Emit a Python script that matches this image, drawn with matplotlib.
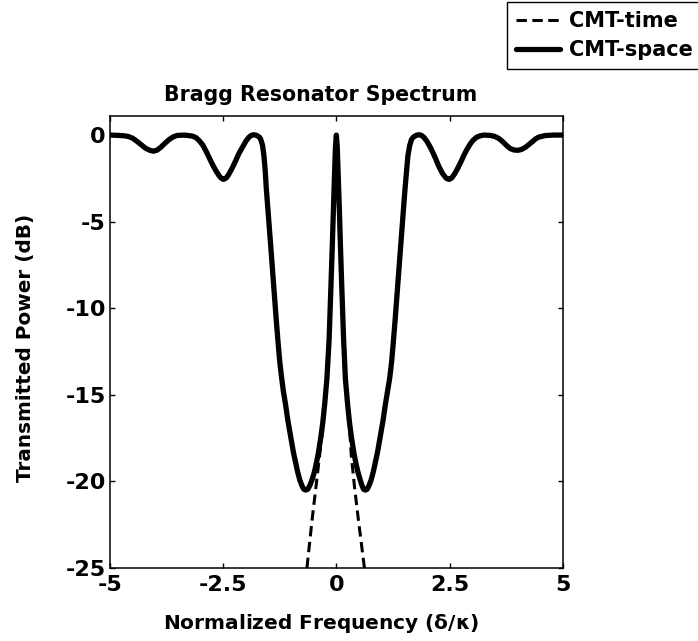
import matplotlib
matplotlib.use("Agg")
import matplotlib.pyplot as plt

# Normalized detuning (delta/kappa) and transmitted power (dB), coupled-mode theory in space
x_space = [-5.00, -4.80, -4.70, -4.61, -4.50, -4.39, -4.30, -4.21, -4.12, -4.04,
           -3.96, -3.88, -3.79, -3.69, -3.60, -3.51, -3.35, -3.18, -3.10, -3.03,
           -2.95, -2.88, -2.81, -2.74, -2.67, -2.59, -2.54, -2.49, -2.43, -2.37,
           -2.30, -2.22, -2.15, -2.07, -2.00, -1.93, -1.88, -1.83, -1.78, -1.74,
           -1.70, -1.67, -1.63, -1.60, -1.57, -1.55, -1.52, -1.49, -1.45, -1.41,
           -1.37, -1.33, -1.29, -1.25, -1.21, -1.17, -1.12, -1.07, -1.01, -0.95,
           -0.86, -0.81, -0.76, -0.72, -0.675, -0.63, -0.58, -0.53, -0.49, -0.45,
           -0.40, -0.34, -0.30, -0.26, -0.21, -0.16, -0.12, -0.09, -0.066, -0.04,
           -0.02, 0.00,
           0.02, 0.04, 0.066, 0.09, 0.12, 0.16, 0.20, 0.25, 0.29, 0.33,
           0.39, 0.44, 0.48, 0.52, 0.56, 0.60, 0.64, 0.68, 0.72, 0.77,
           0.82, 0.91, 0.97, 1.03, 1.08, 1.13, 1.18, 1.22, 1.26, 1.30,
           1.34, 1.38, 1.42, 1.46, 1.49, 1.52, 1.55, 1.58, 1.62, 1.66,
           1.70, 1.74, 1.78, 1.83, 1.88, 1.93, 2.00, 2.07, 2.13, 2.19,
           2.27, 2.35, 2.43, 2.49, 2.55, 2.61, 2.68, 2.75, 2.82, 2.89,
           2.96, 3.02, 3.10, 3.18, 3.26, 3.40, 3.50, 3.59, 3.66, 3.72,
           3.78, 3.84, 3.92, 4.01, 4.09, 4.18, 4.25, 4.33, 4.40, 4.47,
           4.61, 4.80, 5.00]
p_space = [0.00, -0.02, -0.04, -0.07, -0.18, -0.39, -0.58, -0.77, -0.88, -0.93,
           -0.87, -0.71, -0.48, -0.25, -0.10, -0.02, 0.00, -0.06, -0.15, -0.32,
           -0.58, -0.92, -1.30, -1.68, -2.02, -2.35, -2.50, -2.56, -2.47, -2.24,
           -1.90, -1.46, -1.05, -0.68, -0.36, -0.12, -0.02, 0.02, 0.00, -0.05,
           -0.12, -0.25, -0.60, -1.20, -2.10, -3.00, -4.00, -5.00, -6.40, -7.80,
           -9.20, -10.6, -11.9, -13.1, -14.0, -14.8, -15.6, -16.5, -17.4, -18.3,
           -19.4, -19.9, -20.25, -20.45, -20.5, -20.45, -20.2, -19.85, -19.5, -19.05,
           -18.4, -17.4, -16.6, -15.6, -14.1, -11.8, -8.8, -6.4, -4.3, -2.2,
           -0.7, 0.00,
           -0.7, -2.2, -4.3, -6.4, -8.8, -11.8, -14.1, -15.6, -16.6, -17.4,
           -18.4, -19.05, -19.5, -19.85, -20.2, -20.45, -20.5, -20.45, -20.25, -19.9,
           -19.4, -18.3, -17.4, -16.5, -15.6, -14.8, -14.0, -13.1, -11.9, -10.6,
           -9.2, -7.8, -6.4, -5.0, -4.0, -3.0, -2.1, -1.2, -0.60, -0.25,
           -0.12, -0.05, 0.00, 0.02, -0.02, -0.12, -0.36, -0.68, -1.00, -1.35,
           -1.85, -2.24, -2.50, -2.56, -2.47, -2.25, -1.92, -1.55, -1.15, -0.80,
           -0.50, -0.30, -0.12, -0.04, 0.00, -0.02, -0.08, -0.20, -0.35, -0.50,
           -0.65, -0.78, -0.86, -0.88, -0.83, -0.70, -0.55, -0.38, -0.22, -0.12,
           -0.03, 0.00, 0.00]

# Coupled-mode theory in time (single resonance)
x_time = [-0.65, -0.54, -0.45, -0.37, -0.28, -0.20, -0.12, -0.07, -0.035, 0.00,
          0.035, 0.07, 0.12, 0.20, 0.28, 0.33, 0.40, 0.49, 0.62]
p_time = [-25.0, -22.3, -20.3, -18.5, -16.4, -13.8, -8.8, -4.5, -1.5, 0.0,
          -1.5, -4.5, -8.8, -13.8, -16.4, -18.5, -20.3, -22.3, -25.0]

x_ticks = [-5, -2.5, 0, 2.5, 5]
x_tick_labels = ["-5", "-2.5", "0", "2.5", "5"]
y_ticks = [0, -5, -10, -15, -20, -25]
y_tick_labels = ["0", "-5", "-10", "-15", "-20", "-25"]

plt.rcParams["font.family"] = ["DejaVu Sans"]
plt.rcParams["font.weight"] = "bold"
plt.rcParams["axes.unicode_minus"] = False

fig = plt.figure(figsize=(6.98, 6.41), dpi=100)
ax = fig.add_axes([0.1576, 0.1139, 0.6486, 0.7051])

l_time, = ax.plot(x_time, p_time, color="black", lw=2.2, ls=(0, (3.4, 1.8)),
                  label="CMT-time")
l_space, = ax.plot(x_space, p_space, color="black", lw=3.8, solid_joinstyle="round",
                   solid_capstyle="round", label="CMT-space")

ax.set_xlim(-5, 5)
ax.set_ylim(-25, 1.1)
ax.set_xticks(x_ticks)
ax.set_xticklabels(x_tick_labels)
ax.set_yticks(y_ticks)
ax.set_yticklabels(y_tick_labels)
ax.tick_params(direction="in", length=3.5, width=1, top=True, right=True,
               labelsize=16, pad=5)
ax.tick_params(axis="y", pad=3)
for lab in ax.get_xticklabels() + ax.get_yticklabels():
    lab.set_fontweight("bold")
for sp in ax.spines.values():
    sp.set_linewidth(1.1)

ax.set_title("Bragg Resonator Spectrum", fontsize=14.8, fontweight="bold", pad=11,
             x=0.466)
ax.set_xlabel(r"Normalized Frequency ($\mathregular{\delta/\kappa}$)",
              fontsize=14.5, fontweight="bold")
ax.xaxis.set_label_coords(0.466, -0.097)
ax.set_ylabel("Transmitted Power (dB)", fontsize=14.4, fontweight="bold")
ax.yaxis.set_label_coords(-0.166, 0.487)

leg = fig.legend(handles=[l_time, l_space], loc="upper left",
                 bbox_to_anchor=(507 / 698, 1 - 2 / 641),
                 prop={"size": 15, "weight": "bold"}, frameon=True, fancybox=False,
                 edgecolor="black", framealpha=1, handlelength=2.1,
                 handletextpad=0.45, labelspacing=0.45, borderpad=0.43,
                 borderaxespad=0)
leg.get_frame().set_linewidth(1.0)

fig.savefig("out.png", dpi=100)
